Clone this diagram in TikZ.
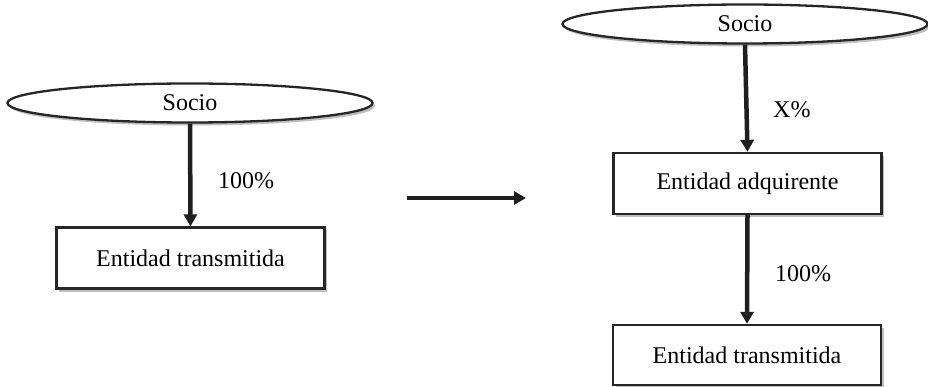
\documentclass[tikz,border=0pt]{standalone}
\usepackage{fontspec}
\setmainfont{Liberation Serif}
\usetikzlibrary{shapes.geometric,shadows,arrows.meta}
\begin{document}
\begin{tikzpicture}[x=1pt,y=-1pt,
  shade/.style={drop shadow={shadow xshift=2.5pt,shadow yshift=-3pt,fill=black,opacity=0.25}},
  entbox/.style={draw=black!85,line width=2.3pt,fill=white,inner sep=0pt,minimum width=268pt,minimum height=61pt,font=\fontsize{24}{28}\selectfont,shade},
  socio/.style={ellipse,draw=black!85,line width=2.3pt,fill=white,inner sep=0pt,minimum width=365pt,minimum height=39pt,font=\fontsize{24}{28}\selectfont,shade},
  conn/.style={line width=4.5pt,draw=black!88,-{Triangle[width=13pt,length=12pt]}},
  lbl/.style={anchor=west,inner sep=0pt,font=\fontsize{24}{28}\selectfont}]
\useasboundingbox (0,0) rectangle (928,387);
% left
\node[socio] (s1) at (190,103) {Socio};
\node[entbox] (t1) at (190.5,258) {Entidad transmitida};
\draw[conn] (s1.south) -- (t1.north);
\node[lbl] (p1) at (218,181) {100\%};
% middle arrow
\coordinate (m1) at (407,198);
\coordinate (m2) at (526,198);
\draw[conn] (m1) -- (m2);
% right
\node[socio] (s2) at (745,24) {Socio};
\node[entbox] (a2) at (747.5,183.5) {Entidad adquirente};
\node[entbox,minimum height=60pt] (t2) at (747,355) {Entidad transmitida};
\draw[conn] (s2.south) -- (a2.north);
\draw[conn] (a2.south) -- (t2.north);
\node[lbl] (x2) at (773,110) {X\%};
\node[lbl] (p2) at (775,274) {100\%};
\end{tikzpicture}
\end{document}
